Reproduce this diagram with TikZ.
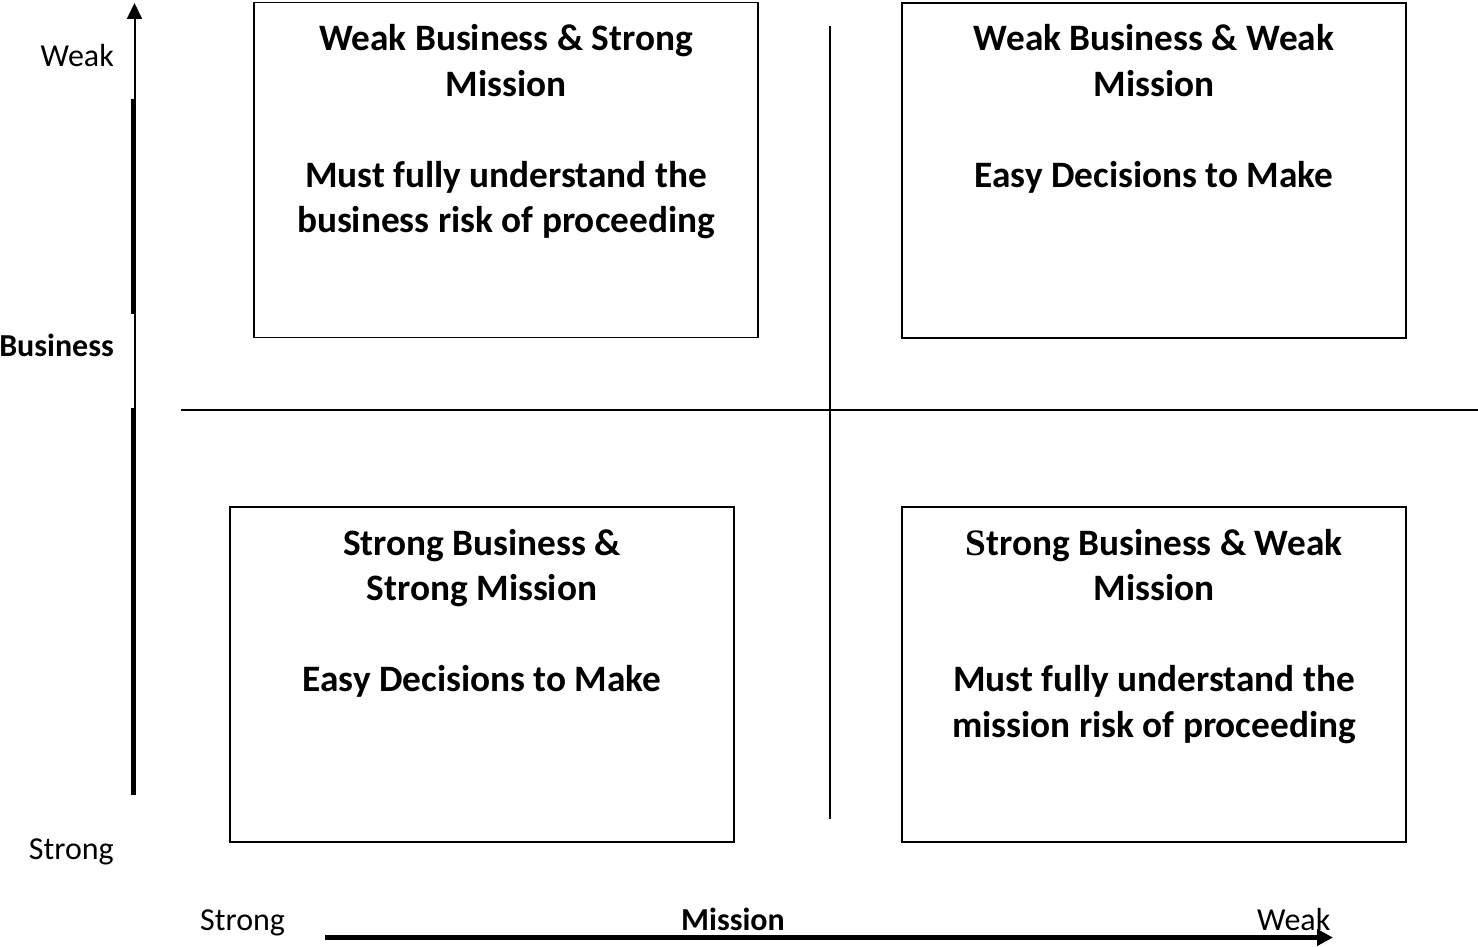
\documentclass[tikz,border=0pt]{standalone}
\usepackage{fontspec}
\setmainfont{Carlito}
\newfontfamily\serifletter{Liberation Serif}
\usetikzlibrary{arrows.meta}
\begin{document}
\begin{tikzpicture}[x=1pt,y=-1pt,
  quad/.style={draw, line width=1.8pt, inner sep=0pt, minimum width=504pt, minimum height=335pt},
  boxtext/.style={font=\fontsize{37.3}{45.5}\selectfont\bfseries, anchor=base, inner sep=0pt},
  lab/.style={font=\fontsize{32}{38}\selectfont, inner sep=0pt},
  divider/.style={line width=1.5pt},
  thinaxis/.style={line width=2pt, -{Triangle[length=16pt,width=15pt]}},
  thickaxis/.style={line width=5pt},
  bottomaxis/.style={line width=5pt, -{Triangle[length=16pt,width=16pt]}}
]
\useasboundingbox (0,0) rectangle (1478,947);

% boxes
\node[quad] (tlbox) at (506,170) {};
\node[quad] (trbox) at (1154,170.5) {};
\node[quad] (blbox) at (482,674.5) {};
\node[quad] (brbox) at (1154,674.5) {};

% box texts
\node[boxtext] (tltext) at (506,51) {\begin{tabular}[t]{@{}c@{}}Weak Business \& Strong\\Mission\\ \\Must fully understand the\\business risk of proceeding\end{tabular}};
\node[boxtext] (trtext) at (1154,51) {\begin{tabular}[t]{@{}c@{}}Weak Business \& Weak\\Mission\\ \\Easy Decisions to Make\end{tabular}};
\node[boxtext] (bltext) at (482,555) {\begin{tabular}[t]{@{}c@{}}Strong Business \&\\Strong Mission\\ \\Easy Decisions to Make\end{tabular}};
\node[boxtext] (brtext) at (1154,555) {\begin{tabular}[t]{@{}c@{}}{\serifletter S}trong Business \& Weak\\Mission\\ \\Must fully understand the\\mission risk of proceeding\end{tabular}};

% dividers
\coordinate (hdl) at (181,410);
\coordinate (hdr) at (1478,410);
\coordinate (vdt) at (830,26);
\coordinate (vdb) at (830,819);
\draw[divider] (hdl) -- (hdr);
\draw[divider] (vdt) -- (vdb);

% vertical axis
\coordinate (vbot) at (134.5,793);
\coordinate (vtop) at (134.5,3);
\coordinate (ta1) at (133.3,99);
\coordinate (ta2) at (133.3,314);
\coordinate (tb1) at (133.3,408);
\coordinate (tb2) at (133.3,795);
\draw[thinaxis] (vbot) -- (vtop);
\draw[thickaxis] (ta1) -- (ta2);
\draw[thickaxis] (tb1) -- (tb2);

% horizontal axis
\coordinate (hl) at (325,937.5);
\coordinate (hr) at (1333,937.5);
\draw[bottomaxis] (hl) -- (hr);

% labels
\node[lab, anchor=base east] (weakl) at (114,67) {Weak};
\node[lab, anchor=base east, font=\fontsize{32}{38}\selectfont\bfseries] (busl) at (114,356) {Business};
\node[lab, anchor=base east] (strongl) at (114,859) {Strong};
\node[lab, anchor=base west] (strongb) at (200,930) {Strong};
\node[lab, anchor=base, font=\fontsize{32}{38}\selectfont\bfseries] (missionb) at (733,930) {Mission};
\node[lab, anchor=base west] (weakb) at (1257,930) {Weak};
\end{tikzpicture}
\end{document}
